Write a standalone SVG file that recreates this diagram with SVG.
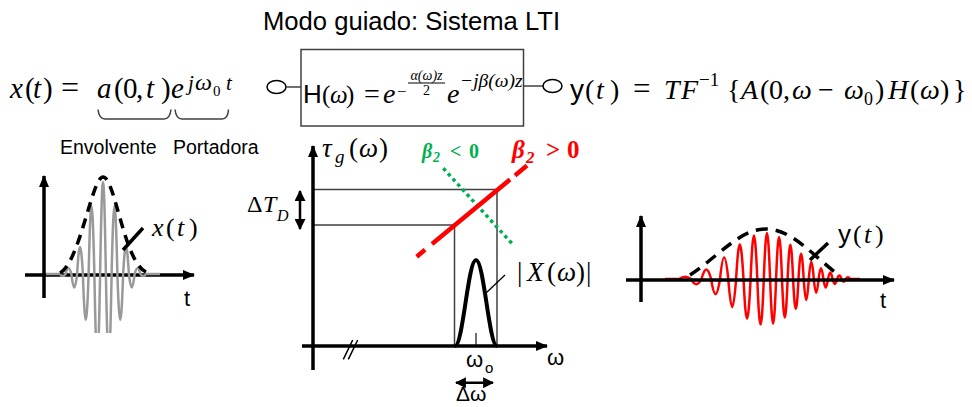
<svg xmlns="http://www.w3.org/2000/svg" width="972" height="407" viewBox="0 0 972 407">
<style>
.s{font-family:"Liberation Sans",Arial,sans-serif}
.m{font-family:"Liberation Serif","Times New Roman",serif}
.i{font-style:italic}
.ax{stroke:#000;stroke-width:3.5;fill:none}
.thin{stroke:#404040;stroke-width:1.5;fill:none}
.env{stroke:#000;stroke-width:3.5;fill:none;stroke-dasharray:10 7}
</style>
<defs>
<marker id="ah" viewBox="0 0 12 10" refX="11" refY="5" markerWidth="12" markerHeight="10" markerUnits="userSpaceOnUse" orient="auto-start-reverse"><path d="M0,0 L12,5 L0,10 z" fill="#000"/></marker>
<marker id="ahs" viewBox="0 0 10 10" refX="9" refY="5" markerWidth="11" markerHeight="11" markerUnits="userSpaceOnUse" orient="auto-start-reverse"><path d="M0,0 L10,5 L0,10 z" fill="#000"/></marker>
<clipPath id="cl"><rect x="0" y="150" width="260" height="183"/></clipPath>
</defs>
<rect width="972" height="407" fill="#fff"/>

<g id="title"><text class="s" x="263" y="30" font-size="25" textLength="297" lengthAdjust="spacingAndGlyphs">Modo guiado: Sistema LTI</text></g>

<g id="input-eq">
<text class="m" font-size="29" y="98"><tspan x="10" class="i">x</tspan><tspan x="25">(</tspan><tspan x="33" class="i">t</tspan><tspan x="43">)</tspan><tspan x="61" font-size="32">=</tspan><tspan x="97" class="i">a</tspan><tspan x="114">(</tspan><tspan x="123">0</tspan><tspan x="136">,</tspan><tspan x="146" class="i">t</tspan><tspan x="161">)</tspan><tspan x="171" class="i">e</tspan><tspan x="188" y="90" font-size="21" class="i">j</tspan><tspan x="195" y="90" font-size="24" class="i">ω</tspan><tspan x="213" y="96" font-size="15">0</tspan><tspan x="226" y="90" font-size="21" class="i">t</tspan></text>
<path class="thin" d="M98,109.5 Q99,119 105,119 L164,119 Q170,119 171,109.5 M175,109.5 Q176,119 182,119 L222,119 Q228,119 228.5,109.5"/>
<text class="s" x="60" y="154" font-size="19.5">Envolvente</text>
<text class="s" x="173" y="154" font-size="19.5">Portadora</text>
</g>

<g id="connectors">
<ellipse cx="276.5" cy="87" rx="9.5" ry="6.5" fill="#fff" stroke="#000" stroke-width="1.5"/>
<line x1="286" y1="87" x2="301" y2="87" stroke="#404040" stroke-width="1.5"/>
<line x1="523.5" y1="86" x2="543" y2="86" stroke="#404040" stroke-width="1.5"/>
<ellipse cx="552.5" cy="86" rx="9.5" ry="6.5" fill="#fff" stroke="#000" stroke-width="1.5"/>
</g>

<g id="system-box">
<rect x="301" y="49.5" width="222.5" height="76.5" fill="#fff" stroke="#404040" stroke-width="1.5"/>
<text class="s" x="303" y="103" font-size="26">H</text>
<text class="m" font-size="25" y="103"><tspan x="322">(</tspan><tspan x="330" class="i">ω</tspan><tspan x="346">)</tspan></text>
<text class="m" x="364" y="103" font-size="28">=</text>
<text class="m i" x="383" y="103" font-size="28">e</text>
<text class="m" x="397" y="97" font-size="17">−</text>
<text class="m i" x="426.5" y="80" font-size="14" text-anchor="middle">α(ω)z</text>
<line x1="408" y1="83" x2="445" y2="83" stroke="#000" stroke-width="1.2"/>
<text class="m" x="426.5" y="95" font-size="14" text-anchor="middle">2</text>
<text class="m i" x="447" y="103" font-size="28">e</text>
<text class="m i" x="460" y="87" font-size="19.5">−jβ(ω)z</text>
</g>

<g id="output-eq">
<text class="m" font-size="28" y="99"><tspan x="570" class="s">y</tspan><tspan x="585">(</tspan><tspan x="596" class="i">t</tspan><tspan x="610">)</tspan><tspan x="633" font-size="31">=</tspan><tspan x="664" class="i">T</tspan><tspan x="681" class="i">F</tspan><tspan x="699" y="86" font-size="19">−1</tspan><tspan x="727" y="99">{</tspan><tspan x="741" class="i">A</tspan><tspan x="760">(</tspan><tspan x="769">0</tspan><tspan x="783">,</tspan><tspan x="792" class="i">ω</tspan><tspan x="818">−</tspan><tspan x="844" class="i">ω</tspan><tspan x="864" y="105" font-size="18">0</tspan><tspan x="875" y="99">)</tspan><tspan x="888" class="i">H</tspan><tspan x="910">(</tspan><tspan x="920" class="i">ω</tspan><tspan x="940">)</tspan><tspan x="953">}</tspan></text>
</g>

<g id="plot-input">
<line class="ax" x1="44" y1="298" x2="44" y2="176" marker-end="url(#ah)"/>
<line class="ax" x1="25" y1="275" x2="194" y2="275" marker-end="url(#ah)"/>
<path clip-path="url(#cl)" fill="none" stroke="#999" stroke-width="2.5" d="M46,274 H59.875 c2.07,2.7 3.68,2.7 5.75,0 c2.07,-7.7 3.68,-7.7 5.75,0 c2.07,18 3.68,18 5.75,0 c2.07,-36 3.68,-36 5.75,0 c2.07,61.3 3.68,61.3 5.75,0 c2.07,-90.7 3.68,-90.7 5.75,0 c2.07,113.3 3.68,113.3 5.75,0 c2.07,-122.7 3.68,-122.7 5.75,0 c2.07,113.3 3.68,113.3 5.75,0 c2.07,-90.7 3.68,-90.7 5.75,0 c2.07,61.3 3.68,61.3 5.75,0 c2.07,-36 3.68,-36 5.75,0 c2.07,18 3.68,18 5.75,0 c2.07,-7.7 3.68,-7.7 5.75,0 c2.07,2.7 3.68,2.7 5.75,0 H160"/>
<path class="env" d="M60,273 C80,262 92,177 103,177 C115,177 124,262 146,272"/>
<line x1="143" y1="228" x2="123" y2="250" stroke="#000" stroke-width="3.5"/>
<text class="m" font-size="26" y="236"><tspan x="152" class="i">x</tspan><tspan x="166">(</tspan><tspan x="177" class="i">t</tspan><tspan x="189">)</tspan></text>
<text class="s" x="184" y="306" font-size="22">t</text>
</g>

<g id="plot-delay">
<path class="thin" d="M313,189.5 H497 V346 M313,225 H454.5 V346"/>
<path fill="none" stroke="#000" stroke-width="4" d="M455,346 C463,346 468,260 476,260 C484,260 489,346 497,346"/>
<line x1="476" y1="333" x2="476" y2="346" stroke="#404040" stroke-width="1.5"/>
<line class="ax" x1="313" y1="370" x2="313" y2="146" marker-end="url(#ah)"/>
<line class="ax" x1="302" y1="346" x2="547" y2="346" marker-end="url(#ah)"/>
<path stroke="#000" stroke-width="1.5" d="M343.3,359.3 L352.7,340 M348.3,359.3 L357.7,340"/>
<line x1="443.3" y1="168.3" x2="513.3" y2="245" stroke="#00b050" stroke-width="3.5" stroke-dasharray="3.5 3.5"/>
<path stroke="#ff0000" stroke-width="4.5" fill="none" d="M416.7,256.7 L425,249.8 M432,244 L510,179.5 M515,175.4 L527,165.5"/>
<line x1="505" y1="275" x2="485" y2="294" stroke="#000" stroke-width="1.3"/>
<line x1="300" y1="191" x2="300" y2="229" stroke="#000" stroke-width="2.5" marker-start="url(#ahs)" marker-end="url(#ahs)"/>
<line x1="456" y1="382.7" x2="493" y2="382.7" stroke="#000" stroke-width="2.5" marker-start="url(#ahs)" marker-end="url(#ahs)"/>
<text class="m" font-size="27" y="157"><tspan x="322" class="i">τ</tspan><tspan x="335" y="163" font-size="19" class="i">g</tspan><tspan x="349" y="157">(</tspan><tspan x="359" class="i">ω</tspan><tspan x="379">)</tspan></text>
<text class="m" font-size="24" y="212"><tspan x="247">Δ</tspan><tspan x="263" class="i">T</tspan><tspan x="277" y="221" font-size="16" class="i">D</tspan></text>
<text class="m i" font-weight="bold" font-size="20" y="158" fill="#00b050"><tspan x="422">β</tspan><tspan x="433" y="162" font-size="14">2</tspan><tspan x="450" y="158" font-style="normal">&lt;</tspan><tspan x="469" font-style="normal">0</tspan></text>
<text class="m i" font-weight="bold" font-size="25" y="158" fill="#ff0000"><tspan x="512">β</tspan><tspan x="526" y="163" font-size="17">2</tspan><tspan x="546" y="158" font-style="normal">&gt;</tspan><tspan x="567" font-style="normal">0</tspan></text>
<text class="m" font-size="27" y="281"><tspan x="517">|</tspan><tspan x="527" class="i">X</tspan><tspan x="547">(</tspan><tspan x="557" class="i">ω</tspan><tspan x="576">)</tspan><tspan x="586">|</tspan></text>
<text class="s" font-size="22" y="367"><tspan x="466">ω</tspan><tspan x="485" y="373" font-size="15">o</tspan></text>
<text class="s" x="547" y="365" font-size="22">ω</text>
<text class="s" x="456" y="401" font-size="21">Δω</text>
</g>

<g id="plot-output">
<path fill="none" stroke="#ff0000" stroke-width="2.5" d="M665,279 L679.25,279 C683.5,275.7 686.8,275.7 691,279 C694.8,286.1 697.7,286.1 701.5,279 C705,266.3 707.6,266.3 711.1,279 C714.3,299.1 716.8,299.1 720,279 C723,250.3 725.3,250.3 728.3,279 C731.1,316.5 733.3,316.5 736.1,279 C738.8,233.1 740.8,233.1 743.5,279 C746.1,331.9 748,331.9 750.6,279 C753,221 754.9,221 757.3,279 C759.6,339.8 761.5,339.8 763.8,279 C766.1,217.7 767.8,217.7 770.1,279 C772.3,338.5 773.9,338.5 776.1,279 C778.2,223 779.9,223 782,279 C784,330.2 785.6,330.2 787.6,279 C789.6,233.4 791.1,233.4 793.1,279 C795,318.6 796.6,318.6 798.5,279 C800.4,245.3 801.8,245.3 803.7,279 C805.5,307 807,307 808.8,279 C810.6,256.1 812,256.1 813.8,279 C815.5,297.4 816.9,297.4 818.6,279 C820.3,264.5 821.7,264.5 823.4,279 C825.1,290.3 826.3,290.3 828,279 C829.7,270.3 830.9,270.3 832.6,279 C834.2,285.5 835.5,285.5 837.1,279 C838.7,274.2 839.9,274.2 841.5,279 C843,282.6 844.3,282.6 845.8,279 C847.3,276.5 848.5,276.5 850,279 L860,279"/>
<line class="ax" x1="641" y1="302" x2="641" y2="216" marker-end="url(#ah)"/>
<line class="ax" x1="626" y1="280" x2="894" y2="280" marker-end="url(#ah)"/>
<path class="env" style="stroke-dasharray:12 8" d="M690,275 C720,255 740,229 766,229 C792,229 812,255 840,276"/>
<line x1="828" y1="243" x2="810" y2="260" stroke="#000" stroke-width="3.5"/>
<text class="m" font-size="26" y="243"><tspan x="838" class="s">y</tspan><tspan x="853">(</tspan><tspan x="864" class="i">t</tspan><tspan x="875">)</tspan></text>
<text class="s" x="880" y="308" font-size="22">t</text>
</g>
</svg>
